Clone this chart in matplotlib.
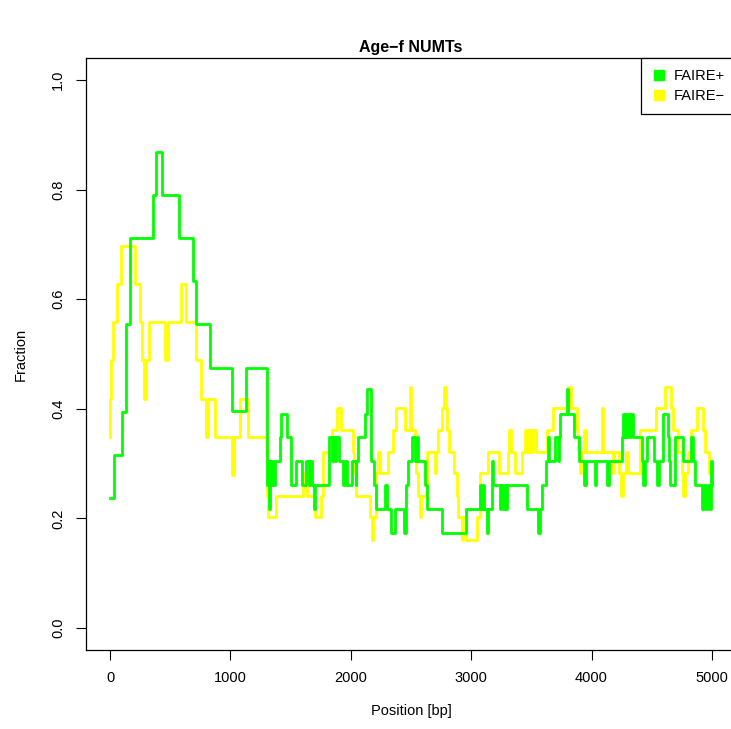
import matplotlib
matplotlib.use("Agg")
import matplotlib.pyplot as plt
from matplotlib.lines import Line2D

plt.rcParams['font.family'] = ['Liberation Sans', 'DejaVu Sans']

# step change positions (bp) and fractions
plus_pos = [0, 33, 102, 130, 166, 360, 385, 435, 570, 690, 714, 830, 1013, 1130,
            1301, 1310, 1318, 1326, 1335, 1345, 1355, 1370, 1412, 1420, 1468, 1500,
            1541, 1592, 1625, 1650, 1660, 1680, 1690, 1706, 1818, 1840, 1850, 1870,
            1880, 1900, 1935, 1952, 1965, 2007, 2040, 2045, 2057, 2118, 2135, 2168,
            2196, 2207, 2284, 2304, 2335, 2364, 2445, 2459, 2478, 2506, 2533, 2550,
            2561, 2616, 2636, 2755, 2957, 3073, 3085, 3095, 3110, 3128, 3140, 3170,
            3184, 3240, 3250, 3265, 3280, 3290, 3300, 3467, 3555, 3572, 3591, 3622,
            3635, 3648, 3696, 3720, 3730, 3738, 3793, 3807, 3857, 3895, 3935, 3955,
            4025, 4035, 4125, 4145, 4249, 4263, 4270, 4280, 4290, 4300, 4320, 4330,
            4346, 4415, 4425, 4440, 4457, 4520, 4545, 4560, 4596, 4632, 4643, 4651,
            4692, 4761, 4830, 4845, 4858, 4920, 4935, 4950, 4970, 4980, 4990, 5000]
plus_val = [0.237, 0.316, 0.395, 0.554, 0.712, 0.790, 0.869, 0.790, 0.712, 0.633, 0.554, 0.475, 0.396, 0.475,
            0.261, 0.304, 0.218, 0.304, 0.261, 0.304, 0.261, 0.304, 0.348, 0.391, 0.348, 0.261,
            0.304, 0.261, 0.304, 0.261, 0.304, 0.261, 0.218, 0.261, 0.348, 0.304, 0.348, 0.304,
            0.348, 0.304, 0.261, 0.304, 0.261, 0.304, 0.261, 0.304, 0.348, 0.391, 0.436, 0.304,
            0.261, 0.218, 0.261, 0.218, 0.174, 0.218, 0.174, 0.261, 0.304, 0.348, 0.304, 0.348,
            0.304, 0.261, 0.218, 0.174, 0.218, 0.261, 0.218, 0.261, 0.218, 0.174, 0.218, 0.304,
            0.261, 0.218, 0.261, 0.218, 0.261, 0.218, 0.261, 0.218, 0.174, 0.218, 0.261, 0.304,
            0.348, 0.304, 0.348, 0.304, 0.348, 0.391, 0.436, 0.391, 0.348, 0.304, 0.261, 0.304,
            0.261, 0.304, 0.261, 0.304, 0.348, 0.391, 0.348, 0.391, 0.348, 0.391, 0.348, 0.391,
            0.348, 0.304, 0.261, 0.304, 0.348, 0.304, 0.261, 0.304, 0.391, 0.348, 0.304, 0.261,
            0.348, 0.304, 0.348, 0.304, 0.261, 0.218, 0.261, 0.218, 0.261, 0.218, 0.304, 0.261]

minus_pos = [0, 3, 10, 22, 55, 91, 208, 249, 269, 285, 300, 327, 454, 485, 593, 631,
             714, 756, 800, 810, 872, 1010, 1028, 1080, 1143,
             1301, 1310, 1379, 1606, 1640, 1700, 1753, 1770, 1841, 1886, 1916,
             2021, 2030, 2045, 2160, 2174, 2185, 2210, 2228, 2240, 2312, 2354, 2373,
             2450, 2488, 2498, 2533, 2545, 2560, 2575, 2585, 2630, 2700, 2710, 2726,
             2755, 2774, 2790, 2796, 2818, 2857, 2885, 2893, 2920, 2928, 2957, 3046,
             3073, 3142, 3234, 3309, 3316, 3330, 3364, 3419, 3447, 3460, 3470, 3480,
             3490, 3500, 3515, 3540, 3632, 3682, 3807, 3830, 3876, 3890, 3900, 3915,
             3940, 3950, 4085, 4095, 4180, 4190, 4230, 4244, 4265, 4290, 4300, 4402,
             4532, 4609, 4664, 4678, 4720, 4753, 4760, 4780, 4800, 4830, 4872, 4927,
             4941, 4975, 5000]
minus_val = [0.349, 0.418, 0.489, 0.558, 0.628, 0.697, 0.628, 0.558, 0.489, 0.418, 0.489, 0.558, 0.489, 0.558, 0.628, 0.558,
             0.489, 0.418, 0.349, 0.418, 0.349, 0.280, 0.349, 0.418, 0.349,
             0.241, 0.203, 0.241, 0.282, 0.241, 0.203, 0.241, 0.322, 0.361, 0.401, 0.361,
             0.322, 0.282, 0.241, 0.203, 0.160, 0.203, 0.282, 0.322, 0.282, 0.322, 0.361, 0.401,
             0.361, 0.440, 0.361, 0.322, 0.282, 0.241, 0.203, 0.241, 0.322, 0.282, 0.322, 0.361,
             0.401, 0.440, 0.401, 0.361, 0.322, 0.282, 0.241, 0.203, 0.160, 0.203, 0.160, 0.203,
             0.282, 0.322, 0.282, 0.322, 0.361, 0.322, 0.282, 0.322, 0.361, 0.322, 0.361, 0.322,
             0.361, 0.322, 0.361, 0.322, 0.361, 0.401, 0.440, 0.401, 0.361, 0.322, 0.282, 0.322,
             0.361, 0.322, 0.401, 0.322, 0.282, 0.322, 0.282, 0.241, 0.282, 0.322, 0.282, 0.361,
             0.401, 0.440, 0.401, 0.361, 0.322, 0.282, 0.241, 0.282, 0.322, 0.361, 0.401, 0.361,
             0.322, 0.282, 0.282]

labels = ["FAIRE+", "FAIRE\u2212"]
colors = ["#00ff00", "#ffff00"]

fig = plt.figure(figsize=(7.31, 7.29), dpi=100)
# the plot region runs a little past the right edge of the picture
ax = fig.add_axes([86/731, 79/729, 650/731, 592/729])

ax.step(minus_pos, minus_val, where='post', color=colors[1], lw=2)
ax.step(plus_pos, plus_val, where='post', color=colors[0], lw=2)

ax.set_xlim(-200, 5200)
ax.set_ylim(-0.04, 1.04)
ax.set_xticks([0, 1000, 2000, 3000, 4000, 5000])
ax.set_yticks([0.0, 0.2, 0.4, 0.6, 0.8, 1.0])
ax.set_yticklabels(["0.0", "0.2", "0.4", "0.6", "0.8", "1.0"], rotation=90, va='center')
ax.tick_params(direction='out', length=7, width=0.8, labelsize=10.5, pad=8)
for s in ax.spines.values():
    s.set_linewidth(0.9)

ax.set_xlabel("Position [bp]", fontsize=10.5, labelpad=14)
ax.set_ylabel("Fraction", fontsize=10.5, labelpad=17)
ax.set_title("Age\u2212f NUMTs", fontsize=11.5, fontweight='bold', pad=4)

handles = [Line2D([], [], marker='s', ls='none', color=c, markersize=7) for c in colors]
leg = ax.legend(handles, labels, loc='upper right', bbox_to_anchor=(1, 1), borderaxespad=0,
                fancybox=False, edgecolor='black', fontsize=10.5, handlelength=1,
                handletextpad=0.5, borderpad=0.75, labelspacing=0.4, framealpha=1)
leg.get_frame().set_linewidth(0.9)

fig.savefig("out.png", dpi=100)
